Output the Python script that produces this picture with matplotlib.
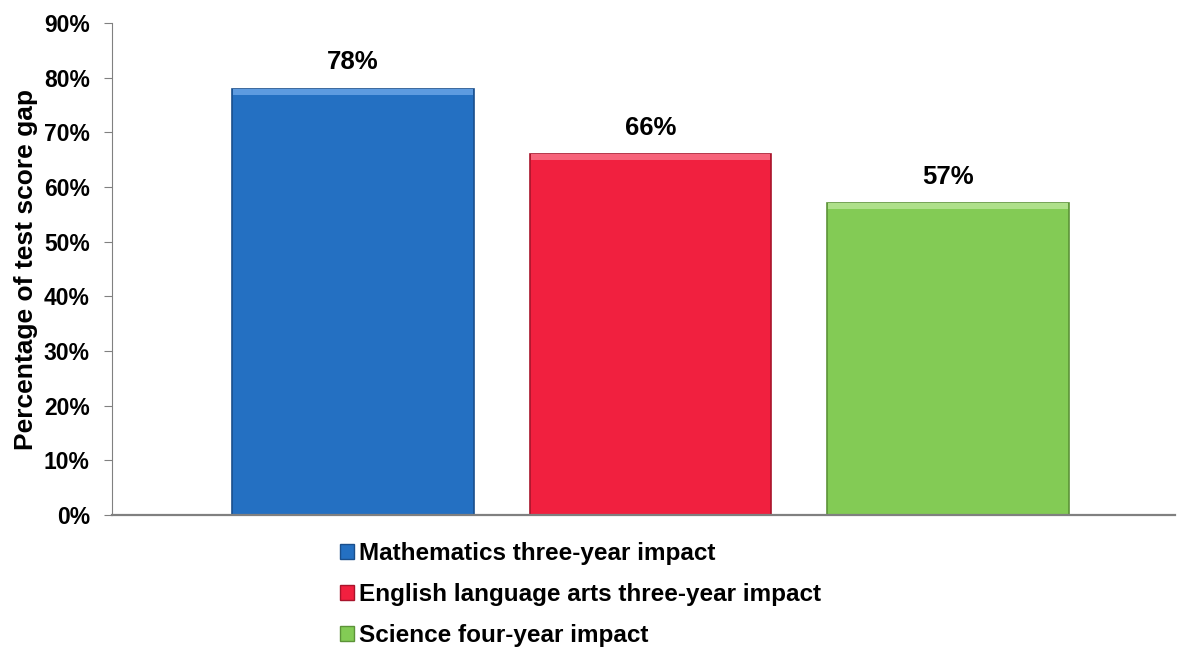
import matplotlib.pyplot as plt
from matplotlib.patches import Patch
from matplotlib.ticker import MultipleLocator, PercentFormatter

plt.rcParams['font.family'] = ['Liberation Sans', 'DejaVu Sans']
plt.rcParams['font.weight'] = 'bold'

# share of the test score gap closed, by subject
series = ['Mathematics three-year impact',
          'English language arts three-year impact',
          'Science four-year impact']
values = [78, 66, 57]
labels = ['78%', '66%', '57%']
colors = ['#2470c2', '#f1203f', '#83cb55']
edges = ['#1a4f8c', '#a8142b', '#5c9338']
tops = ['#5d9be0', '#f7637a', '#aee08a']

fig = plt.figure(figsize=(11.8, 6.48), dpi=100)
ax = fig.add_axes([0.0949, 0.2052, 0.9009, 0.7593])

x = range(len(values))
width = 0.813
ax.bar(x, values, width=width, color=colors, edgecolor=edges, linewidth=1.2, zorder=2)
# lighter strip along the top of each bar for a bevelled look
ax.bar(x, [1.1] * len(values), bottom=[v - 1.1 for v in values], width=width * 0.99,
       color=tops, linewidth=0, zorder=3)

for xi, v, lab in zip(x, values, labels):
    ax.text(xi, v + 2.6, lab, ha='center', va='bottom', fontsize=18.5, fontweight='bold')

ax.set_ylim(0, 90)
ax.set_xlim(-0.81, 2.763)
ax.yaxis.set_major_locator(MultipleLocator(10))
ax.yaxis.set_major_formatter(PercentFormatter(decimals=0))
ax.set_xticks([])
ax.tick_params(axis='y', labelsize=16.5, direction='out', length=6, color='#808080', pad=10)
for lab in ax.get_yticklabels():
    lab.set_fontweight('bold')
ax.set_ylabel('Percentage of test score gap', fontsize=19, fontweight='bold', labelpad=4.5)

for side in ['top', 'right']:
    ax.spines[side].set_visible(False)
ax.spines['left'].set_color('#808080')
ax.spines['bottom'].set_color('#808080')
ax.spines['bottom'].set_linewidth(1.6)

handles = [Patch(facecolor=c, edgecolor=e, linewidth=1) for c, e in zip(colors, edges)]
fig.legend(handles, series, loc='upper left', bbox_to_anchor=(0.2885, 0.163),
           frameon=False, prop={'size': 17.5, 'weight': 'bold'},
           handlelength=0.55, handleheight=0.55, handletextpad=0.2, labelspacing=0.74,
           borderaxespad=0, borderpad=0)

fig.savefig('out.png', dpi=100)
